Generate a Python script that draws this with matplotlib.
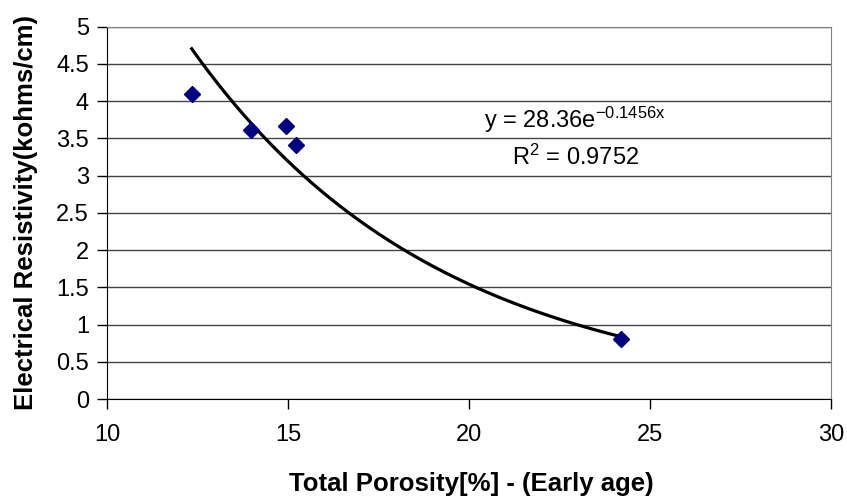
import numpy as np
import matplotlib
matplotlib.use("Agg")
import matplotlib.pyplot as plt

plt.rcParams['font.family'] = ['Liberation Sans', 'DejaVu Sans']
plt.rcParams['mathtext.fontset'] = 'custom'
plt.rcParams['mathtext.rm'] = 'Liberation Sans'
plt.rcParams['mathtext.it'] = 'Liberation Sans'

# measured points
porosity = [12.34, 13.98, 14.94, 15.21, 24.21]
resistivity = [4.10, 3.61, 3.67, 3.41, 0.80]

# exponential trendline as printed on the chart
coef_a = 28.36
coef_b = -0.1456
r_squared = 0.9752

W, H = 847, 501
fig = plt.figure(figsize=(W / 100, H / 100), dpi=100)
ax = fig.add_axes([107 / W, 1 - 399 / H, (831 - 107) / W, (399 - 26.7) / H])

# trendline spans the data range
xs = np.linspace(min(porosity), max(porosity), 200)
ax.plot(xs, coef_a * np.exp(coef_b * xs), color='black', lw=2.3, zorder=3)

ax.plot(porosity, resistivity, linestyle='none', marker='D', ms=8.5,
        color='#000080', zorder=4)

ax.set_xlim(10, 30)
ax.set_ylim(0, 5)
ax.set_xticks([10, 15, 20, 25, 30])
ax.set_yticks(np.arange(0, 5.01, 0.5))
ax.set_yticklabels(['0', '0.5', '1', '1.5', '2', '2.5', '3', '3.5', '4', '4.5', '5'])

ax.yaxis.grid(True, color='#444444', lw=1)
ax.set_axisbelow(True)
ax.tick_params(direction='out', length=7, width=1, labelsize=17, colors='black')
ax.tick_params(axis='x', pad=11)
ax.tick_params(axis='y', pad=6)
for side in ['top', 'right']:
    ax.spines[side].set_color('#808080')
for side in ['left', 'bottom']:
    ax.spines[side].set_color('black')

fig.text(471 / W, 1 - 484 / H, 'Total Porosity[%] - (Early age)', fontsize=18.5,
         fontweight='bold', ha='center', va='center')
fig.text(26 / W, 1 - 213 / H, 'Electrical Resistivity(kohms/cm)', fontsize=18.5,
         fontweight='bold', ha='center', va='center', rotation=90)

ax.text(22.93, 3.642, 'y = %.2fe$^{\\mathrm{%.4fx}}$' % (coef_a, coef_b),
        fontsize=17, ha='center', va='baseline')
ax.text(22.93, 3.150, 'R$^{\\mathrm{2}}$ = %.4f' % r_squared,
        fontsize=17, ha='center', va='baseline')

fig.savefig('out.png', dpi=100)
